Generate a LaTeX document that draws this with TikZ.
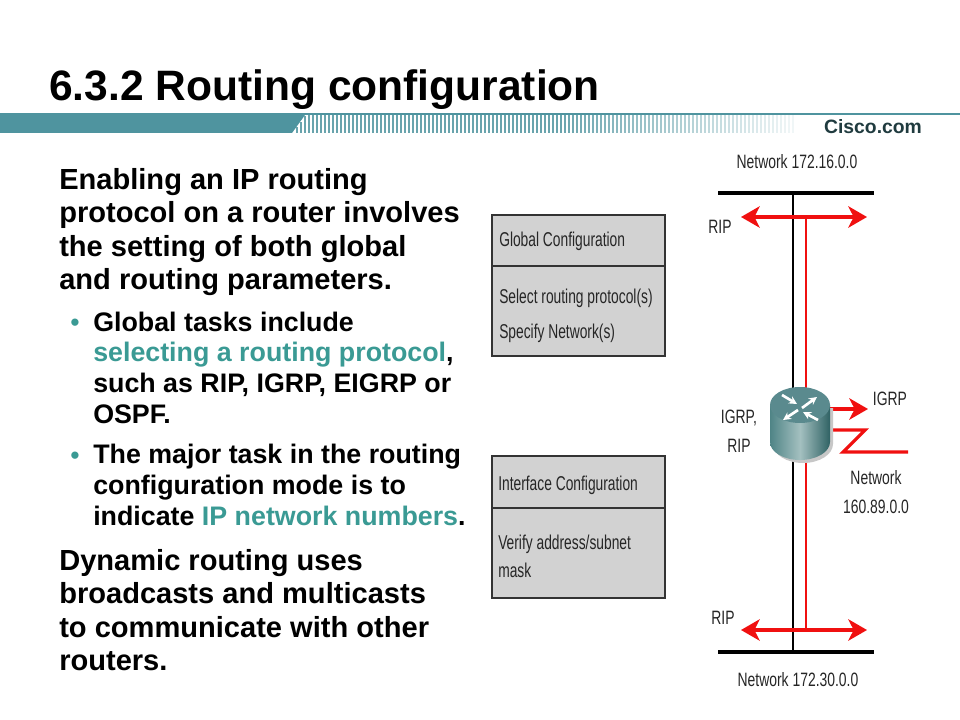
\documentclass[tikz,border=0pt]{standalone}
\usepackage{fontspec}
\setmainfont{Liberation Sans}
\usetikzlibrary{arrows.meta}
\definecolor{ciscoteal}{HTML}{4F949F}
\definecolor{textteal}{HTML}{3A9A94}
\definecolor{boxgray}{HTML}{D2D2D2}
\definecolor{rtrred}{HTML}{F01010}
\definecolor{rtrtop}{HTML}{5A8A8E}
\definecolor{rtrdark}{HTML}{2F6264}
\definecolor{rtrmid}{HTML}{4F8486}
\definecolor{rtrlight}{HTML}{A4C0C0}
\newcommand{\narrowtxt}[1]{\scalebox{0.72}[1]{#1}}
\newcommand{\boxtxt}[1]{\scalebox{0.69}[1]{#1}}
\tikzset{
  bodytext/.style={anchor=base west, inner sep=0pt, align=left, font=\fontsize{21.8pt}{25pt}\selectfont\bfseries},
  subtext/.style={anchor=base west, inner sep=0pt, align=left, font=\fontsize{20.1pt}{23pt}\selectfont\bfseries},
  bullet/.style={anchor=base, inner sep=0pt, text=textteal, font=\fontsize{20pt}{22pt}\selectfont},
  graybox/.style={draw=black!80, line width=1pt, fill=boxgray, inner sep=0pt, minimum width=129.75pt},
  boxlabel/.style={anchor=base west, inner sep=0pt, text=black!85, font=\fontsize{15pt}{17pt}\selectfont},
  netlabel/.style={inner sep=0pt, align=center, text=black!85, font=\fontsize{14.5pt}{22pt}\selectfont},
  bus/.style={line width=2.5pt, black},
  redline/.style={line width=1.7pt, rtrred},
  redarrow/.style={line width=2.4pt, rtrred, {Stealth[length=14pt,width=16pt,inset=4pt]}-{Stealth[length=14pt,width=16pt,inset=4pt]}},
  redtip/.style={line width=2.4pt, rtrred, -{Stealth[length=14pt,width=16pt,inset=4pt]}},
  rtrarrow/.style={white, line width=2pt, -{Stealth[length=6pt,width=6pt]}}
}

\begin{document}
\begin{tikzpicture}[x=0.75pt,y=-0.75pt]
    \useasboundingbox (0,0) rectangle (960,720);
    \fill[white] (0,0) rectangle (960,720);

    % Title and header bar
    \node (title) at (49,101) [anchor=base west, inner sep=0pt, font=\fontsize{31.9pt}{36pt}\selectfont\bfseries] {6.3.2 Routing configuration};
    \fill[ciscoteal] (0,115) -- (305,115) -- (292,133) -- (0,133) -- cycle;
    \fill[ciscoteal] (0,113) rectangle (960,115.5);
    \foreach \xpos in {296,300,...,792} {
        \pgfmathsetmacro{\fade}{\xpos<560 ? 85 : max(8,85-(\xpos-560)*0.33)}
        \pgfmathsetmacro{\stripetop}{\xpos<306 ? 133-(\xpos-292)*1.38 : 115}
        \fill[ciscoteal!\fade!white] (\xpos,\stripetop) rectangle ++(2,133-\stripetop);
    }
    \node (cisco) at (873,127) [inner sep=0pt, text=black!60!ciscoteal, font=\fontsize{14.5pt}{17pt}\selectfont\bfseries] {Cisco.com};

    % Left column text
    \node (intro) at (59,289.5) [bodytext] {Enabling an IP routing\\protocol on a router involves\\the setting of both global\\and routing parameters.};
    \node (dota) at (75,331) [bullet] {•};
    \node (taska) at (93,423) [subtext] {Global tasks include\\{\color{textteal}selecting a routing protocol},\\such as RIP, IGRP, EIGRP or\\OSPF.};
    \node (dotb) at (75,464) [bullet] {•};
    \node (taskb) at (93,525) [subtext] {The major task in the routing\\configuration mode is to\\indicate {\color{textteal}IP network numbers}.};
    \node (outro) at (59,670.5) [bodytext] {Dynamic routing uses\\broadcasts and multicasts\\to communicate with other\\routers.};

    % Configuration boxes
    \node (globalhead) at (578.5,240.5) [graybox, minimum height=38pt] {};
    \node (globalbody) at (578.5,311) [graybox, minimum height=67.5pt] {};
    \node (globala) at (499,247) [boxlabel] {\boxtxt{Global Configuration}};
    \node (globalb) at (499,304) [boxlabel] {\boxtxt{Select routing protocol(s)}};
    \node (globalc) at (499,338) [boxlabel] {\boxtxt{Specify Network(s)}};
    \node (ifacehead) at (578.5,482) [graybox, minimum height=39pt] {};
    \node (ifacebody) at (578.5,553) [graybox, minimum height=67.5pt] {};
    \node (ifacea) at (498,490) [boxlabel] {\boxtxt{Interface Configuration}};
    \node (ifaceb) at (498,549) [boxlabel] {\boxtxt{Verify address/subnet}};
    \node (ifacec) at (498,577) [boxlabel] {\boxtxt{mask}};

    % End points of the network lines
    \coordinate (busaleft) at (718,193);
    \coordinate (busaright) at (874,193);
    \coordinate (busamid) at (793,193);
    \coordinate (busbleft) at (718,652);
    \coordinate (busbright) at (874,652);
    \coordinate (busbmid) at (793,652);
    \coordinate (ripaleft) at (741,217);
    \coordinate (riparight) at (867,217);
    \coordinate (ripamid) at (806,217);
    \coordinate (ripbleft) at (741,630);
    \coordinate (ripbright) at (867,630);
    \coordinate (ripbmid) at (806,630);
    \coordinate (igrpstart) at (829,409);
    \coordinate (igrpend) at (868,409);
    \coordinate (zigstart) at (829,430);
    \coordinate (zigtop) at (865,430);
    \coordinate (zigbot) at (843,452);
    \coordinate (zigend) at (908,452);

    % Network lines
    \draw[bus] (busaleft) -- (busaright);
    \draw[bus] (busbleft) -- (busbright);
    \draw[line width=1.4pt, black] (busamid) -- (busbmid);
    \draw[redline] (ripamid) -- (ripbmid);
    \draw[redarrow] (ripaleft) -- (riparight);
    \draw[redarrow] (ripbleft) -- (ripbright);
    \draw[redtip] (igrpstart) -- (igrpend);
    \draw[line width=2.4pt, rtrred] (zigstart) -- (zigtop) -- (zigbot) -- (zigend);

    % Router
    \fill[black!22] (773,408) -- (773,444) arc[start angle=180, end angle=0, x radius=30, y radius=19] -- (833,408) -- cycle;
    \path[left color=rtrmid, right color=rtrdark, middle color=rtrlight]
        (770,405) -- (770,442) arc[start angle=180, end angle=0, x radius=30, y radius=18] -- (830,405) -- cycle;
    \fill[rtrtop] (800,405) ellipse[x radius=30, y radius=18];
    \draw[rtrarrow] (782,395) -- (797,404);
    \draw[rtrarrow] (802,408) -- (817,397);
    \draw[rtrarrow] (798,410) -- (783,420);
    \draw[rtrarrow] (818,420) -- (803,412);
    \node (router) at (800,424) [minimum width=45pt, minimum height=55pt, inner sep=0pt] {};

    % Network labels
    \node (neta) at (797,162) [netlabel] {\narrowtxt{Network 172.16.0.0}};
    \node (ripa) at (720,227) [netlabel] {\narrowtxt{RIP}};
    \node (igrp) at (890,399) [netlabel] {\narrowtxt{IGRP}};
    \node (rproto) at (739,431) [netlabel] {\narrowtxt{IGRP,}\\\narrowtxt{RIP}};
    \node (netb) at (876,492) [netlabel] {\narrowtxt{Network}\\\narrowtxt{160.89.0.0}};
    \node (ripb) at (723,618) [netlabel] {\narrowtxt{RIP}};
    \node (netc) at (798,680) [netlabel] {\narrowtxt{Network 172.30.0.0}};

\end{tikzpicture}
\end{document}
